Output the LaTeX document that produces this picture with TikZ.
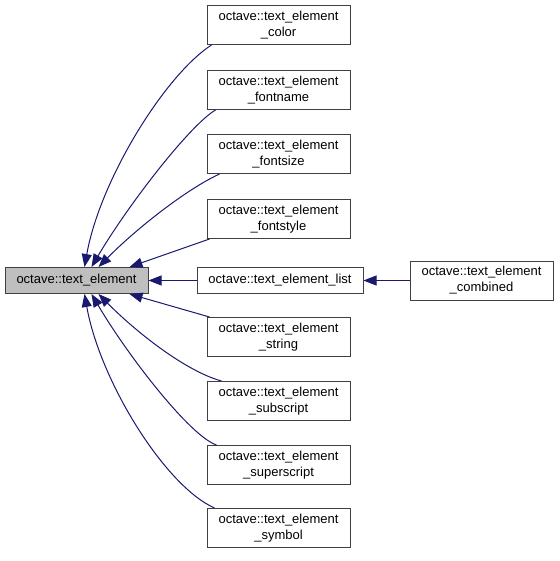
\documentclass[tikz,border=0pt]{standalone}
\usepackage{fontspec}
\setmainfont{Liberation Sans}
\usetikzlibrary{arrows.meta}
\definecolor{edgeblue}{RGB}{25,25,112}
\definecolor{boxline}{RGB}{64,64,64}
\begin{document}
\begin{tikzpicture}[x=1pt,y=-1pt,
  cls/.style={draw=boxline, line width=1pt, fill=white, align=center,
    font=\fontsize{13}{16}\selectfont, minimum width=143pt,
    minimum height=39pt, inner sep=0pt},
  onel/.style={cls, minimum height=26pt},
  edge/.style={draw=edgeblue, line width=1pt,
    -{Triangle[length=13pt,width=10pt]}}]
\useasboundingbox[fill=white] (0,0) rectangle (559,561);
% nodes
\node[onel, fill=black!25] (te) at (76.5,280.5) {octave::text\_element};
\node[cls] (color) at (278.5,25) {octave::text\_element\\\_color};
\node[cls] (fontname) at (278.5,90) {octave::text\_element\\\_fontname};
\node[cls] (fontsize) at (278.5,154) {octave::text\_element\\\_fontsize};
\node[cls] (fontstyle) at (278.5,219) {octave::text\_element\\\_fontstyle};
\node[onel, minimum width=166pt] (list) at (280,280.5) {octave::text\_element\_list};
\node[cls] (string) at (278.5,337) {octave::text\_element\\\_string};
\node[cls] (subscript) at (278.5,401) {octave::text\_element\\\_subscript};
\node[cls] (superscript) at (278.5,465) {octave::text\_element\\\_superscript};
\node[cls] (symbol) at (278.5,528) {octave::text\_element\\\_symbol};
\node[cls] (comb) at (481.5,280.5) {octave::text\_element\\\_combined};
% edges
\draw[edge] ([xshift=5pt]color.south west) .. controls (165,75) and (100,180) .. ([xshift=80pt]te.north west);
\draw[edge] ([xshift=9pt]fontname.south west) .. controls (190,125) and (128,205) .. ([xshift=87pt]te.north west);
\draw[edge] ([xshift=13pt]fontsize.south west) .. controls (185,190) and (135,230) .. ([xshift=94pt]te.north west);
\draw[edge] ([xshift=3pt]fontstyle.south west) -- ([xshift=125pt]te.north west);
\draw[edge] (list.west) -- (te.east);
\draw[edge] (comb.west) -- (list.east);
\draw[edge] ([xshift=3pt]string.north west) -- ([xshift=125pt]te.south west);
\draw[edge] ([xshift=15pt]subscript.north west) .. controls (185,371) and (135,331) .. ([xshift=94pt]te.south west);
\draw[edge] ([xshift=10pt]superscript.north west) .. controls (190,436) and (128,356) .. ([xshift=87pt]te.south west);
\draw[edge] ([xshift=8pt]symbol.north west) .. controls (165,486) and (100,381) .. ([xshift=80pt]te.south west);
\end{tikzpicture}
\end{document}
